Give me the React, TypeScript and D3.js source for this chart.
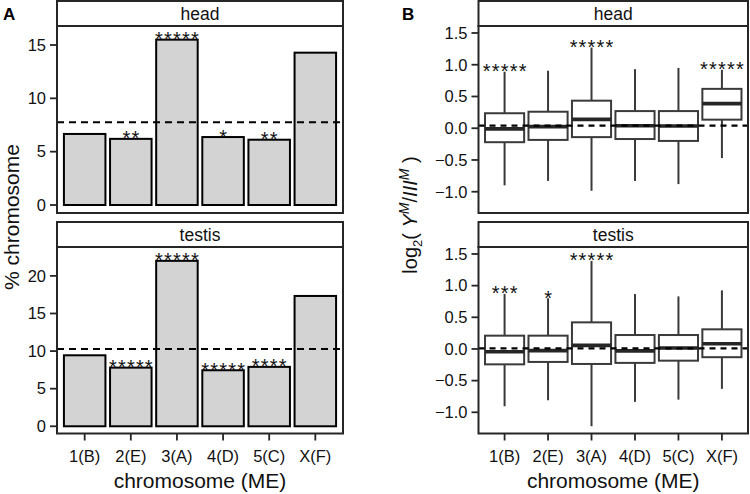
import React from "react";
import * as d3 from "d3";

const categories = ["1(B)", "2(E)", "3(A)", "4(D)", "5(C)", "X(F)"];

// Panel A: % chromosome
const headPct = [6.66, 6.2, 15.5, 6.37, 6.12, 14.28];
const testisPct = [9.44, 7.8, 22.0, 7.45, 7.9, 17.33];
const headPctRef = 7.75;
const testisPctRef = 10.28;
const headPctStars = ["", "**", "*****", "*", "**", ""];
const testisPctStars = ["", "*****", "*****", "*****", "****", ""];
const headPctTicks = [0, 5, 10, 15];
const testisPctTicks = [0, 5, 10, 15, 20];

// Panel B: log2(Y/III) box stats [low whisker, q1, median, q3, high whisker]
const headBox = [
  [-0.9, -0.22, -0.01, 0.236, 0.89],
  [-0.83, -0.184, 0.025, 0.26, 0.905],
  [-0.985, -0.14, 0.14, 0.434, 1.27],
  [-0.83, -0.17, 0.04, 0.27, 0.93],
  [-0.88, -0.2, 0.035, 0.27, 0.95],
  [-0.47, 0.135, 0.387, 0.62, 0.92],
];
const testisBox = [
  [-0.905, -0.243, -0.043, 0.21, 0.87],
  [-0.81, -0.205, -0.027, 0.21, 0.8],
  [-1.22, -0.237, 0.057, 0.42, 1.39],
  [-0.835, -0.22, -0.03, 0.22, 0.867],
  [-0.8, -0.185, 0.016, 0.22, 0.83],
  [-0.63, -0.13, 0.083, 0.31, 0.925],
];
const headLogRef = 0.04;
const testisLogRef = 0.01;
const headLogStars = ["*****", "", "*****", "", "", "*****"];
const testisLogStars = ["***", "*", "*****", "", "", ""];
const logTicks = [-1, -0.5, 0, 0.5, 1, 1.5];

const FONT = "'Liberation Sans', Arial, Helvetica, sans-serif";
const BORDER = "#262626";

const rows = {
  head: { stripTop: 1, top: 26, bottom: 213 },
  testis: { stripTop: 222, top: 247, bottom: 433.5 },
};
const colA = { left: 57, right: 343 };
const colB = { left: 478.5, right: 748 };

const fmtLog = (v: number) => (v < 0 ? "\u2212" + Math.abs(v).toFixed(1) : v.toFixed(1));

function Frame({ col, row, label, y, ticks, fmt, showX, x }: any) {
  return (
    <g>
      <rect x={col.left} y={row.stripTop} width={col.right - col.left} height={row.top - row.stripTop}
        fill="#fff" stroke={BORDER} strokeWidth={2} />
      <text x={(col.left + col.right) / 2} y={(row.stripTop + row.top) / 2 + 6} textAnchor="middle"
        fontSize={17.5} fill="#111">{label}</text>
      <rect x={col.left} y={row.top} width={col.right - col.left} height={row.bottom - row.top}
        fill="none" stroke={BORDER} strokeWidth={2} />
      {ticks.map((t: number) => (
        <g key={t}>
          <line x1={col.left - 7} x2={col.left} y1={y(t)} y2={y(t)} stroke={BORDER} strokeWidth={1.8} />
          <text x={col.left - 11} y={y(t) + 5.8} textAnchor="end" fontSize={16.5} fill="#111">{fmt(t)}</text>
        </g>
      ))}
      {showX && categories.map((c) => (
        <g key={c}>
          <line x1={x(c)! + x.bandwidth() / 2} x2={x(c)! + x.bandwidth() / 2} y1={row.bottom} y2={row.bottom + 7}
            stroke={BORDER} strokeWidth={1.8} />
          <text x={x(c)! + x.bandwidth() / 2} y={462} textAnchor="middle" fontSize={16.5} fill="#111">{c}</text>
        </g>
      ))}
    </g>
  );
}

function Stars({ x, y, stars, tops }: any) {
  return (
    <g>
      {categories.map((c, i) =>
        stars[i] ? (
          <text key={c} x={x(c)! + x.bandwidth() / 2 + 0.6} y={y(tops[i]) + 6.5} textAnchor="middle"
            fontSize={20} letterSpacing={1.2} fill="#111">{stars[i]}</text>
        ) : null
      )}
    </g>
  );
}

function BarPanel({ row, values, refVal, stars, ticks, domain, label, showX }: any) {
  const x = d3.scaleBand().domain(categories).range([colA.left, colA.right]).paddingInner(0).paddingOuter(0.1);
  const y = d3.scaleLinear().domain(domain).range([row.bottom, row.top]);
  const bw = x.bandwidth() * 0.9;
  return (
    <g>
      {categories.map((c, i) => (
        <rect key={c} x={x(c)! + (x.bandwidth() - bw) / 2} y={y(values[i])} width={bw}
          height={y(0) - y(values[i])} fill="#d3d3d3" stroke="#000" strokeWidth={2} />
      ))}
      <line x1={colA.left} x2={colA.right} y1={y(refVal)} y2={y(refVal)} stroke="#000" strokeWidth={2}
        strokeDasharray="7,5" />
      <Stars x={x} y={y} stars={stars} tops={values} />
      <Frame col={colA} row={row} label={label} y={y} ticks={ticks} fmt={(t: number) => String(t)} showX={showX} x={x} />
    </g>
  );
}

function BoxPanel({ row, boxes, refVal, stars, label, showX }: any) {
  const x = d3.scaleBand().domain(categories).range([colB.left, colB.right]).paddingInner(0).paddingOuter(0.1);
  const y = d3.scaleLinear().domain([-1.335, 1.61]).range([row.bottom, row.top]);
  const bw = x.bandwidth() * 0.9;
  const col = "#3a3a3a";
  return (
    <g>
      {categories.map((c, i) => {
        const [lo, q1, med, q3, hi] = boxes[i];
        const cx = x(c)! + x.bandwidth() / 2;
        return (
          <g key={c}>
            <line x1={cx} x2={cx} y1={y(hi)} y2={y(q3)} stroke={col} strokeWidth={2} />
            <line x1={cx} x2={cx} y1={y(q1)} y2={y(lo)} stroke={col} strokeWidth={2} />
            <rect x={cx - bw / 2} y={y(q3)} width={bw} height={y(q1) - y(q3)} fill="#fff" stroke={col} strokeWidth={2} />
            <line x1={cx - bw / 2} x2={cx + bw / 2} y1={y(med)} y2={y(med)} stroke="#262626" strokeWidth={3.6} />
          </g>
        );
      })}
      <line x1={colB.left} x2={colB.right} y1={y(refVal)} y2={y(refVal)} stroke="#000" strokeWidth={2.2}
        strokeDasharray="6,5" />
      <Stars x={x} y={y} stars={stars} tops={boxes.map((b: number[]) => b[4])} />
      <Frame col={colB} row={row} label={label} y={y} ticks={logTicks} fmt={fmtLog} showX={showX} x={x} />
    </g>
  );
}

export default function App() {
  return (
    <svg width={750} height={494} style={{ position: "absolute", left: 0, top: 0, display: "block" }}
      fontFamily={FONT}>
      <rect width={750} height={494} fill="#fff" />
      <text x={3} y={20} fontSize={17} fontWeight="bold">A</text>
      <text x={402} y={20} fontSize={17} fontWeight="bold">B</text>

      <BarPanel row={rows.head} values={headPct} refVal={headPctRef} stars={headPctStars} ticks={headPctTicks}
        domain={[-0.75, 16.78]} label="head" showX={false} />
      <BarPanel row={rows.testis} values={testisPct} refVal={testisPctRef} stars={testisPctStars}
        ticks={testisPctTicks} domain={[-0.96, 23.84]} label="testis" showX={true} />

      <BoxPanel row={rows.head} boxes={headBox} refVal={headLogRef} stars={headLogStars} label="head" showX={false} />
      <BoxPanel row={rows.testis} boxes={testisBox} refVal={testisLogRef} stars={testisLogStars} label="testis" showX={true} />

      <text transform="translate(19,217) rotate(-90)" textAnchor="middle" fontSize={21} fill="#111">% chromosome</text>
      <text transform="translate(417,215) rotate(-90)" textAnchor="middle" fontSize={20} fill="#111">
        log<tspan dy={5} fontSize={13}>2</tspan>
        <tspan dy={-5}>( </tspan>
        <tspan fontStyle="italic">Y</tspan>
        <tspan dy={-8} fontSize={14} fontStyle="italic">M</tspan>
        <tspan dy={8}>/</tspan>
        <tspan fontStyle="italic">III</tspan>
        <tspan dy={-8} fontSize={14} fontStyle="italic">M</tspan>
        <tspan dy={8}> )</tspan>
      </text>

      <text x={(colA.left + colA.right) / 2} y={488} textAnchor="middle" fontSize={21} fill="#111">chromosome (ME)</text>
      <text x={(colB.left + colB.right) / 2} y={488} textAnchor="middle" fontSize={21} fill="#111">chromosome (ME)</text>
    </svg>
  );
}
